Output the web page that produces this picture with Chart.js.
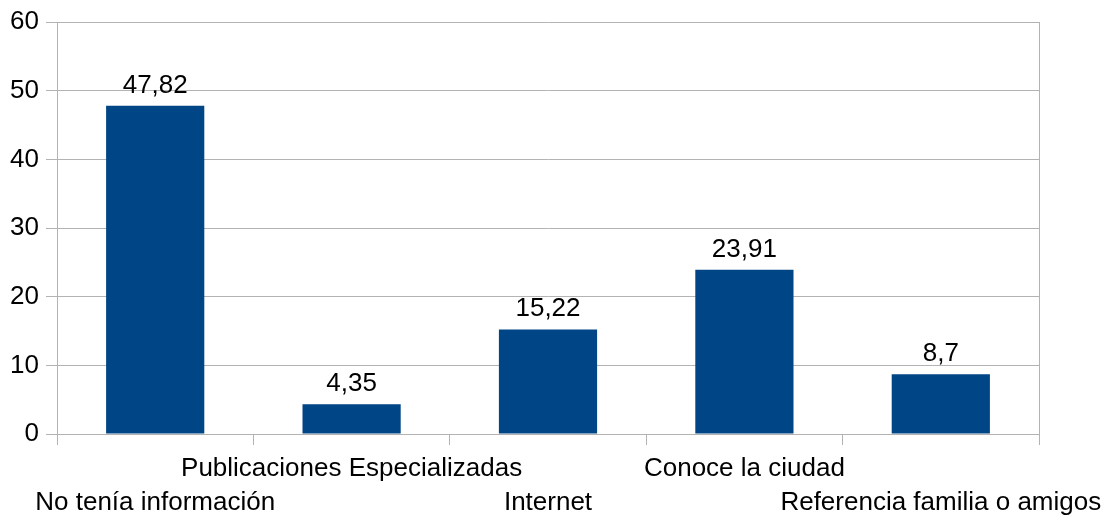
<!DOCTYPE html>
<html>
<head>
<meta charset="utf-8">
<script src="https://cdn.jsdelivr.net/npm/chart.js@4"></script>
<style>
  html, body { margin: 0; padding: 0; background: #fff; }
  #wrap { width: 1101px; height: 517px; }
</style>
</head>
<body>
<div id="wrap"><canvas id="chart"></canvas></div>
<script>
// data
const categories = ['No tenía información', 'Publicaciones Especializadas', 'Internet', 'Conoce la ciudad', 'Referencia familia o amigos'];
const values = [47.82, 4.35, 15.22, 23.91, 8.7];
const yTicks = [0, 10, 20, 30, 40, 50, 60];

const gridColor = '#b3b3b3';
const barColor = '#004586';
const fontFamily = '"Liberation Sans", Arial, sans-serif';

// labels above the bars, decimal comma
const valueLabels = {
    id: 'valueLabels',
    afterDatasetsDraw(chart) {
        const ctx = chart.ctx;
        const meta = chart.getDatasetMeta(0);
        ctx.save();
        ctx.font = '26px ' + fontFamily;
        ctx.fillStyle = '#000';
        ctx.textAlign = 'center';
        ctx.textBaseline = 'alphabetic';
        meta.data.forEach((bar, i) => {
            const txt = String(values[i]).replace('.', ',');
            ctx.fillText(txt, bar.x, bar.y - 13);
        });
        ctx.restore();
    }
};

// frame around the plot area (right edge)
const plotFrame = {
    id: 'plotFrame',
    beforeDatasetsDraw(chart) {
        const { ctx, chartArea: a } = chart;
        ctx.save();
        ctx.strokeStyle = gridColor;
        ctx.lineWidth = 1;
        ctx.beginPath();
        ctx.moveTo(Math.round(a.right) + 0.5, a.top);
        ctx.lineTo(Math.round(a.right) + 0.5, a.bottom + 11);
        ctx.stroke();
        ctx.restore();
    }
};

new Chart(document.getElementById('chart'), {
    type: 'bar',
    data: {
        labels: categories,
        datasets: [{
            data: values,
            backgroundColor: barColor,
            categoryPercentage: 1,
            barPercentage: 0.5
        }]
    },
    options: {
        responsive: true,
        maintainAspectRatio: false,
        animation: false,
        devicePixelRatio: 1,
        layout: { padding: { top: 22, right: 62, left: 0, bottom: 0 } },
        plugins: { legend: { display: false }, tooltip: { enabled: false } },
        scales: {
            x: {
                grid: {
                    offset: true,
                    drawOnChartArea: false,
                    drawTicks: true,
                    tickLength: 11,
                    color: gridColor
                },
                border: { color: gridColor },
                ticks: {
                    autoSkip: false,
                    maxRotation: 0,
                    minRotation: 0,
                    padding: 7,
                    color: '#000',
                    font: { family: fontFamily, size: 26, lineHeight: 1.3 },
                    callback: (v, i) => i % 2 === 0 ? ['', categories[i]] : [categories[i], '']
                },
                afterFit(scale) {
                    scale.height = 83;
                    scale.paddingLeft = 0;
                    scale.paddingRight = 0;
                }
            },
            y: {
                min: 0,
                max: 60,
                afterBuildTicks(scale) { scale.ticks = yTicks.map(v => ({ value: v })); },
                grid: {
                    color: gridColor,
                    tickLength: 11,
                    drawTicks: true
                },
                border: { color: gridColor },
                ticks: {
                    padding: 7,
                    color: '#000',
                    font: { family: fontFamily, size: 26 }
                },
                afterFit(scale) {
                    scale.width = 57;
                    scale.paddingTop = 0;
                    scale.paddingBottom = 0;
                }
            }
        }
    },
    plugins: [plotFrame, valueLabels]
});
</script>
</body>
</html>
